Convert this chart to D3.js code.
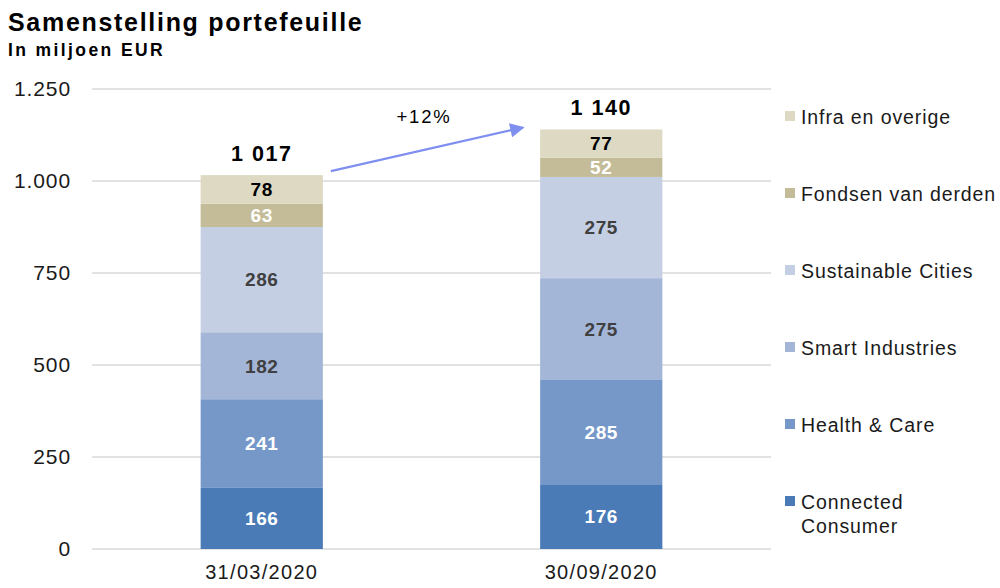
<!DOCTYPE html>
<html>
<head>
<meta charset="utf-8">
<script src="https://cdn.jsdelivr.net/npm/d3@7"></script>
<style>
	body { margin: 0; background: #fff; }
	svg text { font-family: "Liberation Sans", Arial, sans-serif; }
</style>
</head>
<body>
<svg id="chart" width="1000" height="588"></svg>
<script>
"use strict";

// données
const dates = ["31/03/2020", "30/09/2020"];
const segments = ["Connected Consumer", "Health & Care", "Smart Industries", "Sustainable Cities", "Fondsen van derden", "Infra en overige"];
const connected = [166, 176];
const health = [241, 285];
const smart = [182, 275];
const sustainable = [286, 275];
const fondsen = [63, 52];
const infra = [78, 77];
const totaux = ["1 017", "1 140"];
const croissance = "+12%";
const yTicks = [0, 250, 500, 750, 1000, 1250];

const couleurs = ["#4a7bb7", "#7698c9", "#a3b6d7", "#c4cfe4", "#c4bc98", "#ddd9c3"];
const couleursTexte = ["#fff", "#fff", "#404040", "#404040", "#fff", "#000"];

const series = [connected, health, smart, sustainable, fondsen, infra];
const rows = dates.map((d, i) => {
	const r = { date: d };
	segments.forEach((s, k) => r[s] = series[k][i]);
	return r;
});

const svg = d3.select("#chart");
const marge = { left: 92, right: 229, top: 89, bottom: 39 };
const W = 1000, H = 588;

const x = d3.scaleBand().domain(dates).range([marge.left, W - marge.right]).paddingInner(0.64).paddingOuter(0.32);
const y = d3.scaleLinear().domain([0, 1250]).range([H - marge.bottom, marge.top]);

const empile = d3.stack().keys(segments)(rows);

// titre (espacement large comme l'export d'origine)
svg.append("text").attr("x", 8).attr("y", 31).attr("font-size", 25).attr("font-weight", "bold")
	.attr("letter-spacing", 1.7).text("Samenstelling portefeuille");
svg.append("text").attr("x", 8).attr("y", 56).attr("font-size", 17.5).attr("font-weight", "bold")
	.attr("letter-spacing", 2.4).text("In miljoen EUR");

// grille
const fmt = d3.formatLocale({ decimal: ",", thousands: ".", grouping: [3], currency: ["", "€"] }).format(",");
svg.append("g")
	.selectAll("line")
	.data(yTicks)
	.join("line")
	.attr("x1", marge.left).attr("x2", W - marge.right)
	.attr("y1", d => y(d)).attr("y2", d => y(d))
	.attr("stroke", "#d9d9d9").attr("stroke-width", 1.5);

svg.append("g")
	.selectAll("text")
	.data(yTicks)
	.join("text")
	.attr("x", 71).attr("y", d => y(d)).attr("dy", "0.35em")
	.attr("text-anchor", "end").attr("font-size", 21).attr("letter-spacing", 0.9).attr("fill", "#1a1a1a")
	.text(d => fmt(d));

// barres
const gBarres = svg.append("g");
empile.forEach((couche, k) => {
	gBarres.append("g")
		.attr("fill", couleurs[k])
		.selectAll("rect")
		.data(couche)
		.join("rect")
		.attr("x", d => x(d.data.date))
		.attr("width", x.bandwidth())
		.attr("y", d => y(d[1]))
		.attr("height", d => y(d[0]) - y(d[1]));

	gBarres.append("g")
		.selectAll("text")
		.data(couche)
		.join("text")
		.attr("x", d => x(d.data.date) + x.bandwidth() / 2)
		.attr("y", d => (y(d[0]) + y(d[1])) / 2)
		.attr("dy", "0.36em")
		.attr("text-anchor", "middle")
		.attr("font-size", 19).attr("font-weight", "bold").attr("letter-spacing", 0.6)
		.attr("fill", couleursTexte[k])
		.text(d => d[1] - d[0]);
});

// totaux
const sommets = empile[empile.length - 1];
svg.append("g")
	.selectAll("text")
	.data(sommets)
	.join("text")
	.attr("x", d => x(d.data.date) + x.bandwidth() / 2)
	.attr("y", d => y(d[1]) - 14)
	.attr("text-anchor", "middle")
	.attr("font-size", 21.5).attr("font-weight", "bold").attr("letter-spacing", 1.5)
	.text((d, i) => totaux[i]);

// axe x
svg.append("g")
	.selectAll("text")
	.data(dates)
	.join("text")
	.attr("x", d => x(d) + x.bandwidth() / 2)
	.attr("y", H - 9)
	.attr("text-anchor", "middle").attr("font-size", 20).attr("letter-spacing", 1.3).attr("fill", "#1a1a1a")
	.text(d => d);

// flèche de croissance
svg.append("defs").append("marker")
	.attr("id", "pointe")
	.attr("viewBox", "0 0 10 10").attr("refX", 9).attr("refY", 5)
	.attr("markerWidth", 7).attr("markerHeight", 6.5).attr("markerUnits", "strokeWidth")
	.attr("orient", "auto")
	.append("path").attr("d", "M0,0L10,5L0,10z").attr("fill", "#7f8ff0");

const x1 = x(dates[0]) + x.bandwidth() + 8, y1 = y(sommets[0][1]) - 4;
const x2 = x(dates[1]) - 17, y2 = y(sommets[1][1]) - 2;
svg.append("line")
	.attr("x1", x1).attr("y1", y1).attr("x2", x2).attr("y2", y2)
	.attr("stroke", "#7f8ff0").attr("stroke-width", 2.2)
	.attr("marker-end", "url(#pointe)");
svg.append("text")
	.attr("x", (x1 + x2) / 2 - 3).attr("y", y2 - 4)
	.attr("text-anchor", "middle").attr("font-size", 18.5).attr("letter-spacing", 1.8)
	.text(croissance);

// légende
const legende = svg.append("g").attr("transform", "translate(785,0)");
const legY = d3.scalePoint().domain(segments.slice().reverse()).range([117, 502]);
segments.forEach((s, k) => {
	const g = legende.append("g").attr("transform", "translate(0," + legY(s) + ")");
	g.append("rect").attr("x", 0).attr("y", -6).attr("width", 10).attr("height", 10).attr("fill", couleurs[k]);
	const t = g.append("text").attr("x", 16).attr("y", 0).attr("font-size", 19.5).attr("letter-spacing", 0.9).attr("fill", "#1a1a1a");
	const mots = s === "Connected Consumer" ? ["Connected", "Consumer"] : [s];
	mots.forEach((m, j) => t.append("tspan").attr("x", 16).attr("dy", j === 0 ? "0.35em" : "1.25em").text(m));
});
</script>
</body>
</html>
